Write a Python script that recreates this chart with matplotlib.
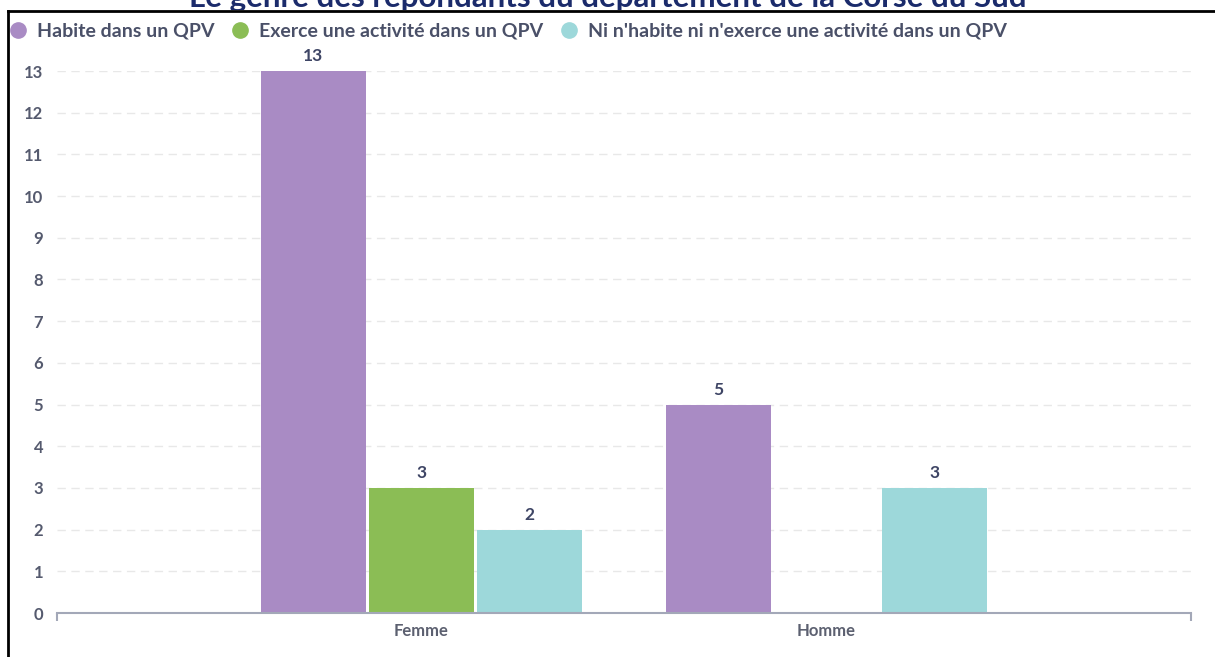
import numpy as np
import matplotlib
matplotlib.use("Agg")
import matplotlib.pyplot as plt
from matplotlib.lines import Line2D
from matplotlib.patches import Rectangle

categories = ["Femme", "Homme"]
series = ["Habite dans un QPV", "Exerce une activité dans un QPV",
          "Ni n'habite ni n'exerce une activité dans un QPV"]
habite = [13, 5]
exerce = [3, 0]
ni_ni = [2, 3]
values = [habite, exerce, ni_ni]
colors = ["#a98bc4", "#8bbd55", "#9dd8da"]

title = "Le genre des répondants du département de la Corse du Sud"

plt.rcParams['font.family'] = ['Lato', 'DejaVu Sans']

W, H = 1215, 657
fig = plt.figure(figsize=(W / 100, H / 100), dpi=100)
ax = fig.add_axes([57 / W, (H - 613) / H, 1134 / W, 542 / H])
ax.set_zorder(2)

x = np.arange(len(categories))
slot = 0.2667
width = 0.259
for i, (vals, col) in enumerate(zip(values, colors)):
    pos = x + (i - 1) * slot
    for p, v in zip(pos, vals):
        if v == 0:
            continue
        ax.bar(p, v, width=width, color=col, zorder=2)
        ax.annotate(str(v), (p, v), xytext=(0, 5), textcoords="offset points",
                    ha="center", va="bottom", fontsize=12.5, fontweight="bold",
                    color="#3e4565")

ax.set_xlim(-0.9, 1.9)
ax.set_ylim(0, 13)
ax.set_yticks(range(0, 14))
ax.set_xticks(x)
ax.set_xticklabels(categories)
ax.set_xticks([-0.9, 1.9], minor=True)
ax.tick_params(axis="y", length=0, pad=10, labelsize=12, labelcolor="#555a6e")
ax.tick_params(axis="x", which="major", length=0, pad=7, labelsize=12,
               labelcolor="#5c6070")
ax.tick_params(axis="x", which="minor", length=6, width=1.5, color="#a3a8b8")
for t in ax.get_xticklabels() + ax.get_yticklabels():
    t.set_fontweight("bold")

ax.grid(axis="y", color="#e8e8e8", linestyle=(0, (6, 4)), linewidth=1, zorder=0)
for s in ["top", "right", "left"]:
    ax.spines[s].set_visible(False)
ax.spines["bottom"].set_color("#a3a8b8")
ax.spines["bottom"].set_linewidth(1.5)
ax.spines["bottom"].set_zorder(3)

handles = [Line2D([], [], marker="o", linestyle="none", markersize=11,
                  markerfacecolor=c, markeredgecolor=c) for c in colors]
leg = fig.legend(handles, series, loc="center left", bbox_to_anchor=(9 / W, 1 - 31 / H),
                 ncol=3, frameon=False, prop={"size": 14, "weight": "bold"},
                 labelcolor="#4a5068",
                 handlelength=0.9, handletextpad=0.55, columnspacing=0.85,
                 borderpad=0, borderaxespad=0)
leg.set_zorder(3)

# title sits behind the chart card, only its top part shows
fig.text(0.5, 1 - 7 / H, title, ha="center", va="baseline", fontsize=22.5,
         fontweight="bold", color="#1b2b6b", zorder=0.5)
fig.add_artist(Rectangle((8 / W, 0), 1, 1 - 10 / H, transform=fig.transFigure,
                         facecolor="white", edgecolor="none", zorder=1))

# black frame (top + left visible)
fig.add_artist(Line2D([8 / W, 8 / W], [0, 1 - 11 / H], transform=fig.transFigure,
                      color="black", linewidth=2, zorder=4))
fig.add_artist(Line2D([8 / W, 1], [1 - 11 / H, 1 - 11 / H], transform=fig.transFigure,
                      color="black", linewidth=2, zorder=4))

fig.savefig("out.png", dpi=100)
